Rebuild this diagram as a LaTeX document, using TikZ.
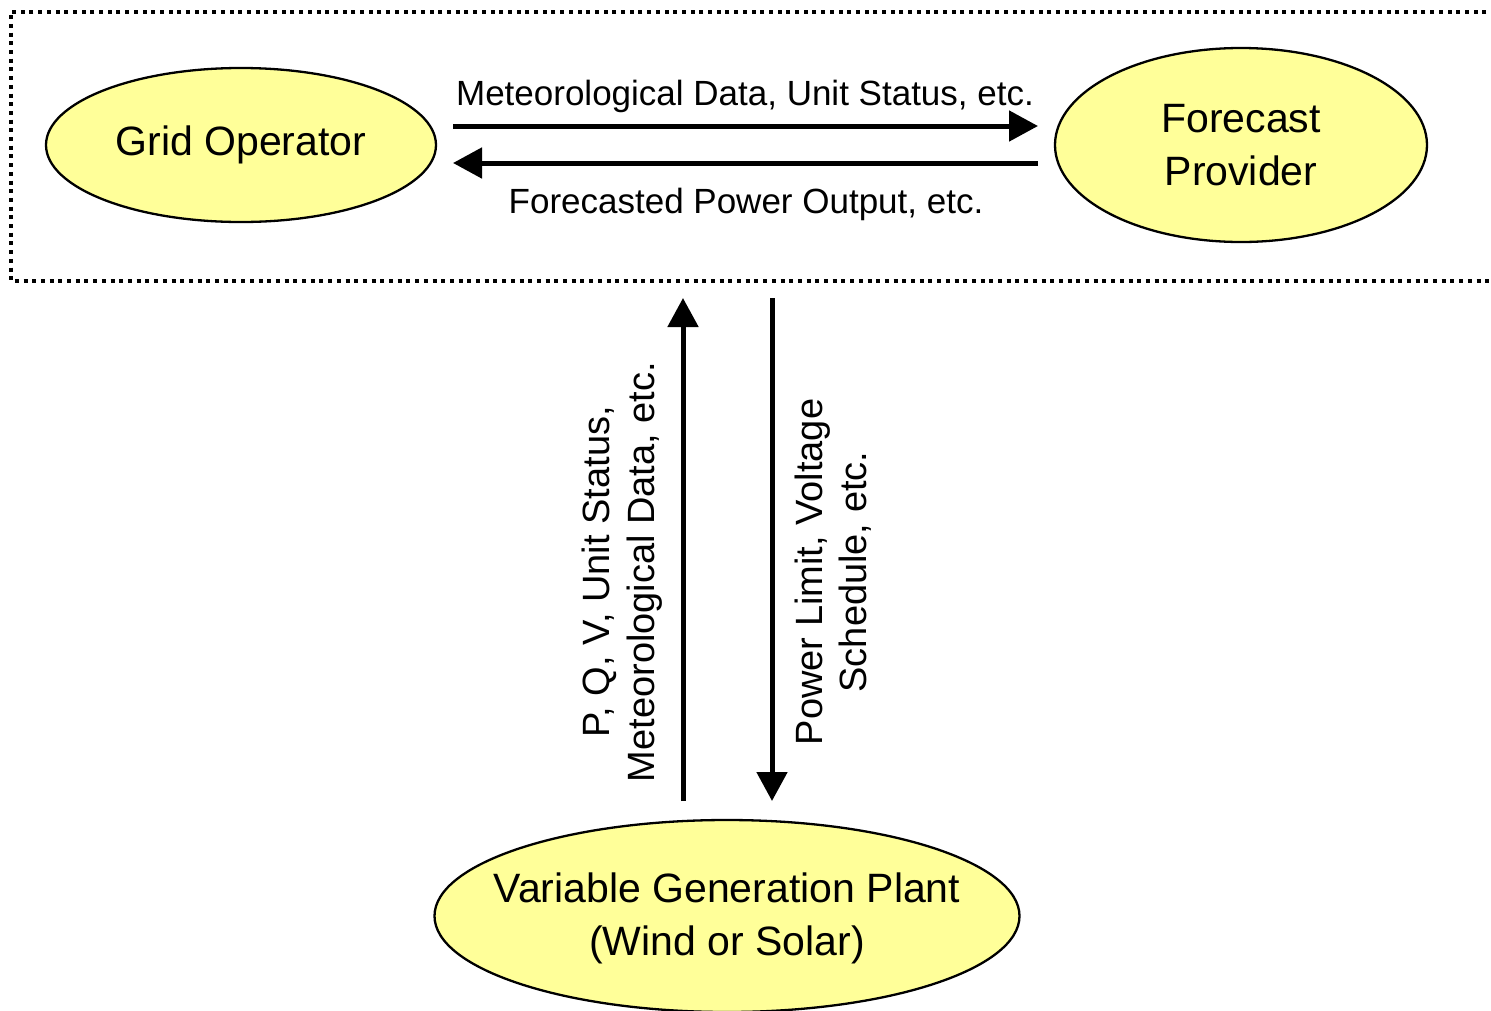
\documentclass[tikz,border=0pt]{standalone}
\usepackage{fontspec}
\setmainfont{Liberation Sans}
\usetikzlibrary{shapes.geometric,arrows.meta}
\definecolor{paleyellow}{HTML}{FFFF99}
\tikzset{
  party/.style={ellipse, draw=black, line width=2.3pt, fill=paleyellow, inner sep=0pt},
  partytext/.style={align=center, inner sep=0pt, font=\fontsize{41}{53}\selectfont},
  flow/.style={line width=5pt, -{Triangle[length=29pt,width=30pt]}},
  flowlabel/.style={font=\fontsize{35}{42}\selectfont, inner sep=0pt},
  vlabel/.style={font=\fontsize{38}{44.5}\selectfont, inner sep=0pt, align=center, rotate=90},
  zone/.style={line width=4pt, dash pattern=on 4pt off 4.7pt}
}
\begin{document}
\begin{tikzpicture}[x=1pt,y=-1pt]
\useasboundingbox (0,0) rectangle (1491,1010);
% dotted frame around the operator/provider exchange (open on the right)
\draw[zone] (1495,11.5) -- (11,11.5) -- (11,281) -- (1495,281);

% parties
\node[party, minimum width=390pt, minimum height=154pt] (grid) at (241,145) {};
\node[partytext] (gridT) at (grid.center) {Grid Operator};
\node[party, minimum width=372pt, minimum height=194pt] (prov) at (1241,145) {};
\node[partytext] (provT) at (prov.center) {Forecast\\Provider};
\node[party, minimum width=585pt, minimum height=192pt] (plant) at (727,916) {};
\node[partytext] (plantT) at ([yshift=-2pt]plant.center) {Variable Generation Plant\\(Wind or Solar)};

% end points of the data flows
\coordinate (gA) at (453,126);
\coordinate (pA) at (1038,126);
\coordinate (pB) at (1038,163);
\coordinate (gB) at (453,163);
\coordinate (upTop) at (683,298);
\coordinate (upBot) at (683,801);
\coordinate (dnTop) at (772,298);
\coordinate (dnBot) at (772,801);

\draw[flow] (gA) -- (pA);
\draw[flow] (pB) -- (gB);
\draw[flow] (upBot) -- (upTop);
\draw[flow] (dnTop) -- (dnBot);

% labels
\node[flowlabel, anchor=base] (lblA) at (745,105) {Meteorological Data, Unit Status, etc.};
\node[flowlabel, anchor=base] (lblB) at (746,213) {Forecasted Power Output, etc.};
\node[vlabel] (lblUp) at (622,572) {P, Q, V, Unit Status,\\Meteorological Data, etc.};
\node[vlabel] (lblDn) at (833,572) {Power Limit, Voltage\\Schedule, etc.};
\end{tikzpicture}
\end{document}
